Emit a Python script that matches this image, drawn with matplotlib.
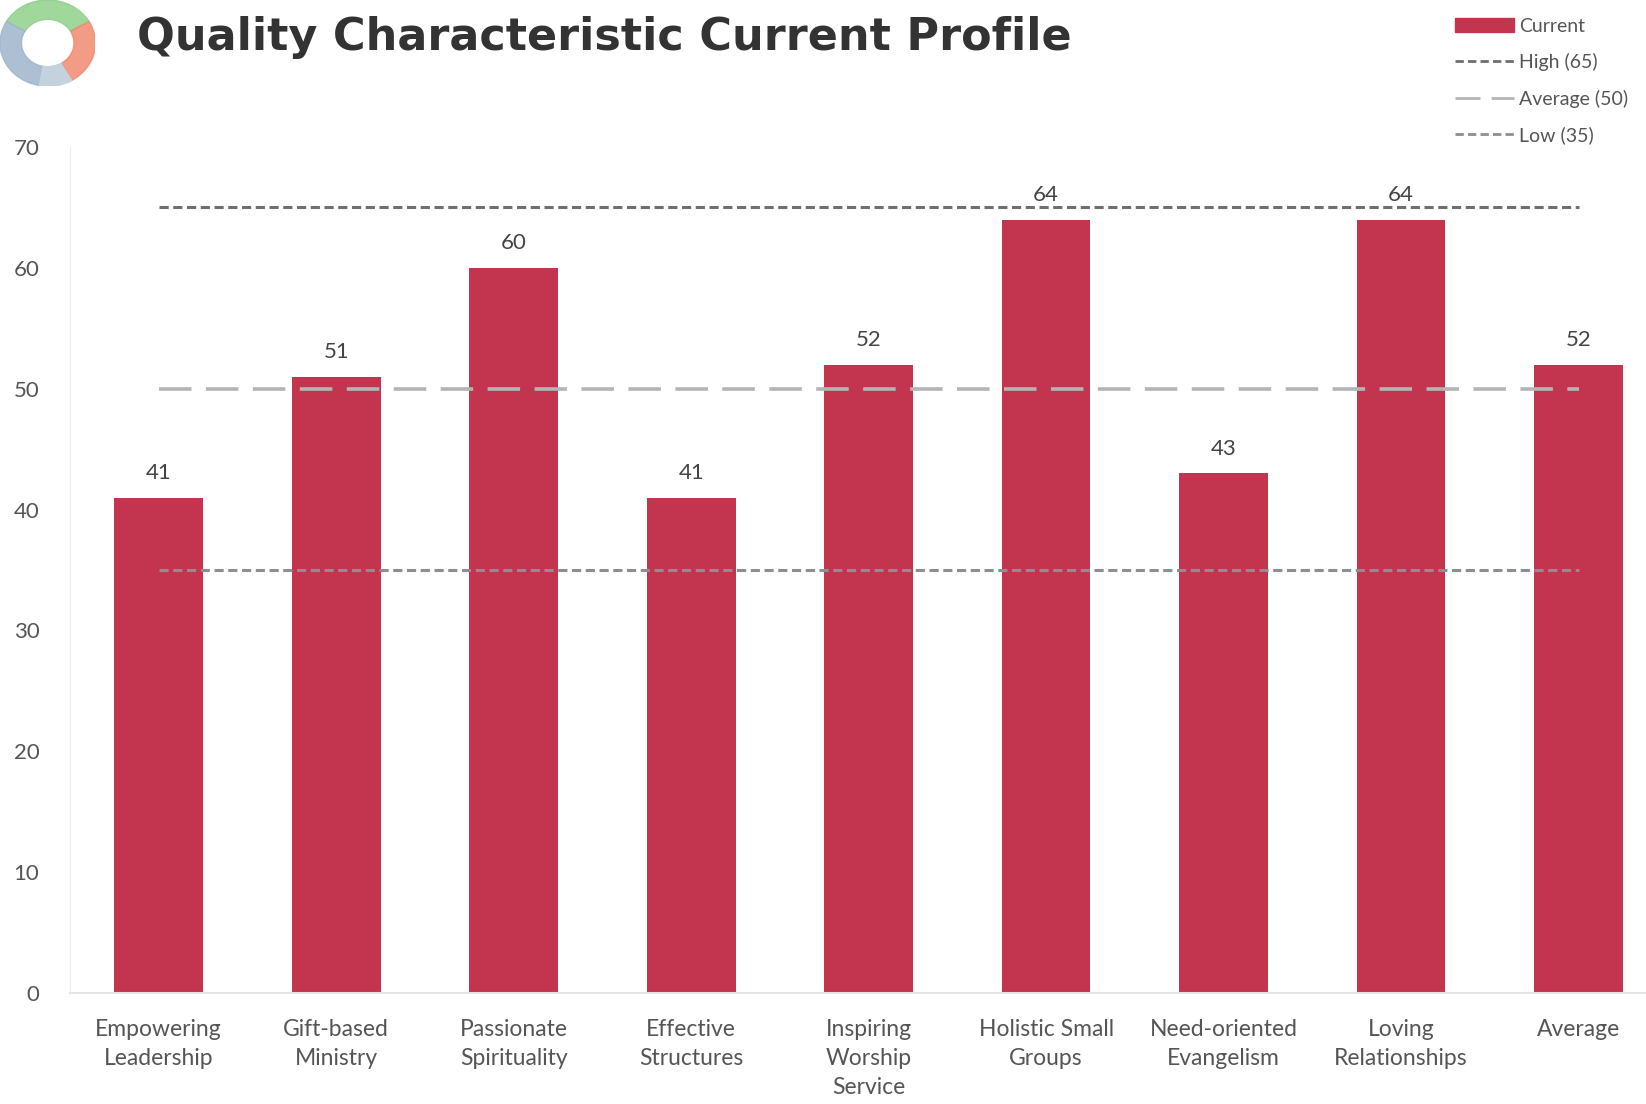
"""Quality characteristic profile bar chart."""

import matplotlib
matplotlib.use('Agg')
import numpy as np
from matplotlib import pyplot as plt
from matplotlib.patches import Wedge, Patch
from matplotlib.lines import Line2D

categories = ['Empowering\nLeadership', 'Gift-based\nMinistry', 'Passionate\nSpirituality',
              'Effective\nStructures', 'Inspiring\nWorship\nService', 'Holistic Small\nGroups',
              'Need-oriented\nEvangelism', 'Loving\nRelationships', 'Average']
current = [41, 51, 60, 41, 52, 64, 43, 64, 52]
ref_names = ['High (65)', 'Average (50)', 'Low (35)']
ref_values = [65, 50, 35]

BAR = '#c3344f'
plt.rcParams['font.family'] = ['Lato', 'DejaVu Sans']

fig = plt.figure(figsize=(16.46, 11.04), dpi=100)
ax = fig.add_axes([0.0425, 0.1005, 0.9575, 0.7663])

x = np.arange(len(categories))
ax.bar(x, current, width=0.5, color=BAR, zorder=2)
for xi, v in zip(x, current):
    ax.text(xi, v + 1.2, str(v), ha='center', va='bottom', fontsize=16, color='#444444')

styles = [dict(color='#6f6f6f', lw=2.2, dashes=(3, 1.5), zorder=1),
          dict(color='#b4b4b4', lw=2.6, dashes=(9, 4), zorder=3),
          dict(color='#8e8e8e', lw=2.2, dashes=(3, 1.5), zorder=3)]
for val, st in zip(ref_values, styles):
    ax.plot([x[0], x[-1]], [val, val], solid_capstyle='butt', **st)

ax.set_xlim(-0.5, 8.38)
ax.set_ylim(0, 70)
ax.set_yticks(range(0, 71, 10))
ax.set_xticks(x)
ax.set_xticklabels(categories, fontsize=16.5, color='#555555', linespacing=1.45)
ax.tick_params(axis='y', labelsize=16, labelcolor='#555555', length=0, pad=22)
ax.tick_params(axis='x', length=0, pad=19)
for s in ['top', 'right']:
    ax.spines[s].set_visible(False)
ax.spines['left'].set_color('#eeeeee')
ax.spines['bottom'].set_color('#e6e6e6')
ax.spines['bottom'].set_linewidth(1.5)

# title
fig.text(0.083, 0.966, 'Quality Characteristic Current Profile', fontsize=32,
         fontweight='bold', color='#333333', va='center', ha='left', family=['DejaVu Sans'])

# logo
lax = fig.add_axes([0.0, 0.922, 0.058, 0.078])
lax.set_xlim(-1, 1)
lax.set_ylim(-1, 1)
lax.axis('off')
for t1, t2, c in [(30, 150, '#8fd08a'), (-60, 30, '#f08a70'), (150, 300, '#9fb4cc'), (-100, -60, '#c9d6e0')]:
    lax.add_patch(Wedge((0, 0), 1.0, t1, t2, width=0.45, color=c, alpha=0.85))

# legend
handles = [Patch(color=BAR, label='Current')]
for name, st in zip(ref_names, styles):
    handles.append(Line2D([], [], color=st['color'], lw=2, dashes=st['dashes'], label=name))
fig.legend(handles=handles, loc='upper right', bbox_to_anchor=(1.0, 1.0), frameon=False,
           fontsize=14, handlelength=3.0, handletextpad=0.3, labelspacing=0.95,
           labelcolor='#555555')

fig.savefig('out.png', dpi=100, facecolor='white')
